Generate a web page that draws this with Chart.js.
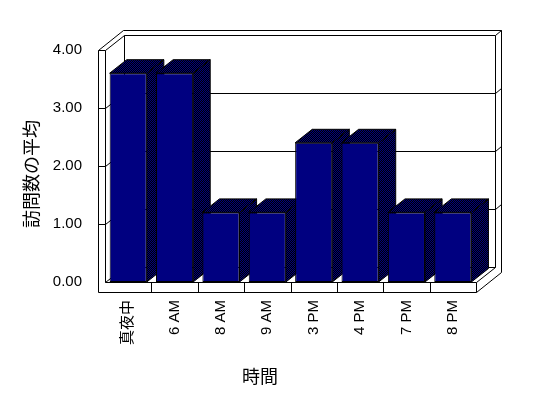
<!DOCTYPE html>
<html lang="ja">
<head>
<meta charset="utf-8">
<title>訪問数の平均</title>
<script src="https://cdn.jsdelivr.net/npm/chart.js@4"></script>
<style>
  html, body { margin: 0; padding: 0; background: #fff; }
  canvas { display: block; }
</style>
</head>
<body>
<canvas id="chart" width="548" height="398"></canvas>
<script>
// data
const categories = ['真夜中', '6 AM', '8 AM', '9 AM', '3 PM', '4 PM', '7 PM', '8 PM'];
const visitAverages = [3.6, 3.6, 1.2, 1.2, 2.4, 2.4, 1.2, 1.2];
const yTickValues = [0, 1, 2, 3, 4];
const xTitle = '時間';
const yTitle = '訪問数の平均';

const FONT = "'Liberation Sans', Arial, 'Noto Sans CJK JP', sans-serif";

// oblique 3D look: one depth unit moves right and up
const DEPTH_X = 19, DEPTH_Y = -15;
const WALL = 7, FLOOR = 10, BACK_Z = 1.32, BAR_Z = 0.9;

const p = (x, y, z) => [x + DEPTH_X * z, y + DEPTH_Y * z];

// checkerboard navy / black, like the dithered faces in the original
function makeDither(ctx) {
    const pc = document.createElement('canvas');
    pc.width = pc.height = 2;
    const g = pc.getContext('2d');
    g.fillStyle = '#000';
    g.fillRect(0, 0, 2, 2);
    g.fillStyle = '#000080';
    g.fillRect(0, 0, 1, 1);
    g.fillRect(1, 1, 1, 1);
    return ctx.createPattern(pc, 'repeat');
}

const frame3d = {
    id: 'frame3d',
    beforeDatasetsDraw(chart) {
        const { ctx, chartArea: a, scales: { x, y } } = chart;
        const L = a.left, R = a.right, T = a.top, B = a.bottom;
        const seg = (pts) => {
            ctx.beginPath();
            pts.forEach(([px, py], i) => {
                const rx = Math.round(px) + 0.5, ry = Math.round(py) + 0.5;
                i ? ctx.lineTo(rx, ry) : ctx.moveTo(rx, ry);
            });
            ctx.stroke();
        };
        ctx.save();
        ctx.strokeStyle = '#000';
        ctx.lineWidth = 1;

        // front of left wall + floor
        seg([[L - WALL, T], [L - WALL, B + FLOOR], [R, B + FLOOR], [R, B], [L, B], [L, T], [L - WALL, T]]);
        // top of walls, outer edge and right edge
        seg([[L - WALL, T], p(L - WALL, T, BACK_Z), p(R, T, BACK_Z), p(R, B + FLOOR, BACK_Z), [R, B + FLOOR]]);
        // back wall face and inner corner of left wall
        seg([[L, T], p(L, T, 1), p(R, T, 1), p(R, B, 1), p(L, B, 1), p(L, T, 1)]);
        seg([p(R, T, 1), p(R, T, BACK_Z)]);
        seg([[L, B], p(L, B, 1)]);
        seg([[R, B], p(R, B, 1)]);

        // gridlines: tick on wall front, along left wall, across back wall
        yTickValues.slice(1, -1).forEach(v => {
            const yy = y.getPixelForValue(v);
            seg([[L - WALL, yy], [L, yy], p(L, yy, 1), p(R, yy, 1), p(R, yy, BACK_Z)]);
        });

        // category dividers on the floor front
        for (let i = 1; i < categories.length; i++) {
            const xb = (x.getPixelForValue(i - 1) + x.getPixelForValue(i)) / 2;
            seg([[xb, B], [xb, B + FLOOR]]);
        }

        // side and top faces of the bars, left to right
        const dither = makeDither(ctx);
        ctx.fillStyle = dither;
        chart.getDatasetMeta(0).data.forEach(bar => {
            const l = bar.x - bar.width / 2, r = bar.x + bar.width / 2;
            const top = bar.y, base = bar.base;
            const faces = [
                [[r, top], p(r, top, BAR_Z), p(r, base, BAR_Z), [r, base]],
                [[l, top], [r, top], p(r, top, BAR_Z), p(l, top, BAR_Z)]
            ];
            faces.forEach(f => {
                ctx.beginPath();
                f.forEach(([px, py], i) => i ? ctx.lineTo(px, py) : ctx.moveTo(px, py));
                ctx.closePath();
                ctx.fill();
                ctx.stroke();
            });
        });
        ctx.restore();
    },
    afterDraw(chart) {
        const { ctx } = chart;
        ctx.save();
        ctx.fillStyle = '#000';
        ctx.font = '18px ' + FONT;
        ctx.textAlign = 'center';
        ctx.textBaseline = 'middle';
        ctx.fillText(xTitle, 260, 378);
        ctx.translate(33, 174);
        ctx.rotate(-Math.PI / 2);
        ctx.fillText(yTitle, 0, 0);
        ctx.restore();
    }
};

Chart.defaults.font.family = FONT;
Chart.defaults.color = '#000';

new Chart(document.getElementById('chart'), {
    type: 'bar',
    data: {
        labels: categories,
        datasets: [{
            data: visitAverages,
            backgroundColor: '#000080',
            borderColor: '#000',
            borderWidth: 1,
            borderSkipped: false,
            barPercentage: 0.8,
            categoryPercentage: 1.0
        }]
    },
    options: {
        responsive: false,
        animation: false,
        devicePixelRatio: 1,
        layout: { padding: { top: 50, right: 72, left: 0, bottom: 0 } },
        plugins: { legend: { display: false }, tooltip: { enabled: false } },
        scales: {
            x: {
                grid: { display: false, drawTicks: false },
                border: { display: false },
                ticks: { minRotation: 90, maxRotation: 90, autoSkip: false, padding: 18, font: { size: 15 } },
                afterFit(s) { s.height = 116; }
            },
            y: {
                min: 0,
                max: 4,
                grid: { display: false, drawTicks: false },
                border: { display: false },
                ticks: { stepSize: 1, padding: 23, font: { size: 15 }, callback: v => v.toFixed(2) },
                afterFit(s) { s.width = 105; }
            }
        }
    },
    plugins: [frame3d]
});
</script>
</body>
</html>
